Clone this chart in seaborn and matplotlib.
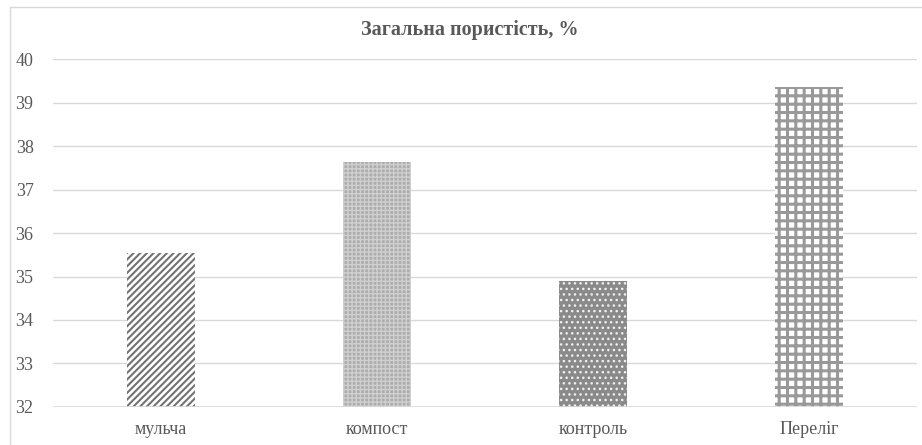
import matplotlib
matplotlib.use("Agg")
import matplotlib.pyplot as plt
from matplotlib.patches import Rectangle
import seaborn as sns
import pandas as pd

categories = ["мульча", "компост", "контроль", "Переліг"]
porosity = [35.55, 37.63, 34.9, 39.35]
hatches = ["/////", "++++", "...", "++"]
face_colors = ["white", "#adadad", "#8a8a8a", "white"]
hatch_colors = ["#737373", "#cfcfcf", "#f0f0f0", "#999999"]
hatch_widths = [1.5, 1.0, 1.0, 2.2]
yticks = [32, 33, 34, 35, 36, 37, 38, 39, 40]
title = "Загальна пористість, %"

sns.set_theme(style="white")
plt.rcParams["font.family"] = ["Liberation Serif", "DejaVu Serif"]
plt.rcParams["hatch.linewidth"] = 1.6

df = pd.DataFrame({"category": categories, "value": porosity})

fig = plt.figure(figsize=(9.22, 4.45), dpi=100)
ax = fig.add_axes([0.0575, 0.0854, 0.937, 0.782])

sns.barplot(data=df, x="category", y="value", ax=ax, width=0.315,
            color="white", edgecolor="none", linewidth=0, zorder=3)

ax.set_ylim(32, 40)
for bar, val, h, fc, hc, hw in zip(ax.patches, porosity, hatches,
                                   face_colors, hatch_colors, hatch_widths):
    bar.set_y(32)
    bar.set_height(val - 32)
    bar.set_facecolor(fc)
    bar.set_hatch(h)
    bar.set_edgecolor(hc)
    bar.set_linewidth(0)
    if hasattr(bar, "set_hatch_linewidth"):
        bar.set_hatch_linewidth(hw)

ax.set_xlim(-0.5, 3.5)
ax.set_yticks(yticks)
ax.yaxis.grid(True, color="#d9d9d9", linewidth=1.0, zorder=0)
ax.xaxis.grid(False)
for s in ax.spines.values():
    s.set_visible(False)
ax.axhline(32, color="#d9d9d9", linewidth=1.2, zorder=4)

ax.set_xlabel("")
ax.set_ylabel("")
ax.tick_params(axis="both", length=0, labelsize=13, labelcolor="#595959")
ax.tick_params(axis="y", pad=14)
ax.tick_params(axis="x", pad=10)

fig.text(0.51, 0.932, title, ha="center", va="center", fontsize=14.5,
         fontweight="bold", color="#595959")

# Outer chart frame
fig.patches.append(Rectangle((10 / 922, -0.05), 1.0, 1 - 7 / 445 + 0.05,
                             transform=fig.transFigure, fill=False,
                             edgecolor="#d9d9d9", linewidth=1.0))

fig.savefig("out.png", dpi=100)
